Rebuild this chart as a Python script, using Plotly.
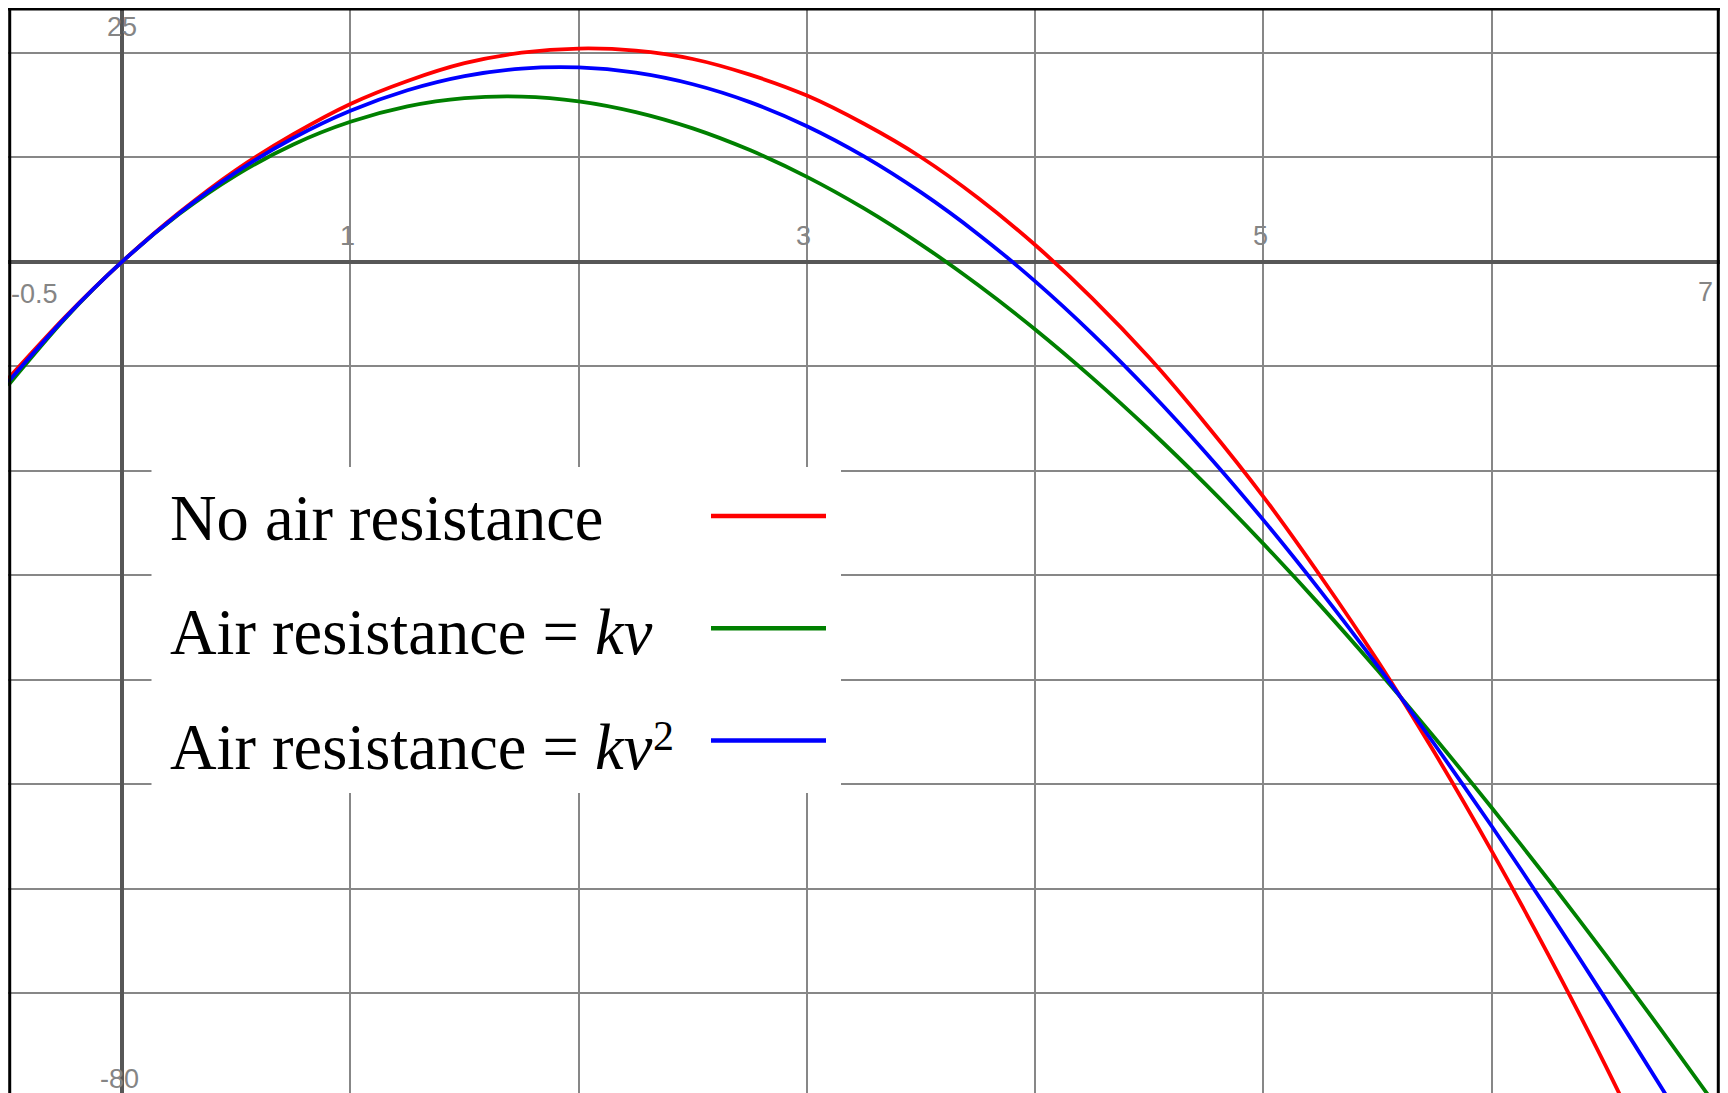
import plotly.graph_objects as go

# ---------------- data ----------------
x_values = [-0.5, -0.25, 0, 0.25, 0.5, 0.75, 1, 1.25, 1.5, 1.75, 2, 2.25, 2.5, 2.75,
            3, 3.25, 3.5, 3.75, 4, 4.25, 4.5, 4.75, 5, 5.25, 5.5, 5.75, 6, 6.25,
            6.5, 6.75, 7]

no_air_resistance = [-11.2, -5.3, 0.0, 4.7, 8.8, 12.2, 15.1, 17.3, 19.0, 20.0, 20.4,
                     20.2, 19.4, 17.9, 15.9, 13.2, 10.0, 6.1, 1.6, -3.5, -9.2, -15.6,
                     -22.5, -30.1, -38.2, -47.0, -56.4, -66.4, -77.0, -88.3, -100.1]

resistance_kv = [-11.84, -5.45, 0.0, 4.56, 8.29, 11.22, 13.39, 14.86, 15.65, 15.80,
                 15.35, 14.32, 12.76, 10.68, 8.12, 5.10, 1.64, -2.23, -6.48, -11.11,
                 -16.08, -21.38, -27.00, -32.91, -39.10, -45.55, -52.26, -59.19,
                 -66.36, -73.74, -81.32]

resistance_kv2 = [-11.52, -5.37, 0.0, 4.64, 8.58, 11.84, 14.45, 16.41, 17.76, 18.48,
                  18.59, 18.09, 16.98, 15.27, 12.97, 10.08, 6.63, 2.64, -1.88, -6.90,
                  -12.40, -18.35, -24.73, -31.52, -38.68, -46.20, -54.02, -62.17,
                  -70.59, -79.27, -88.19]

series_names = ["No air resistance", "Air resistance = kv", "Air resistance = kv²"]
legend_labels = ["No air resistance",
                 "Air resistance = <i>kv</i>",
                 "Air resistance = <i>kv</i>"]
legend_superscripts = ["", "", "2"]
series_colors = ["#ff0000", "#008000", "#0000ff"]

x_tick_labels = ["-0.5", "1", "3", "5", "7"]
y_tick_labels = ["25", "-80"]

# ---------------- layout helpers (page pixel -> paper) ----------------
# the page body has an 8px default margin, so the figure div starts at (8, 8)
OFF = 8
W, H = 1712, 1090


def paper_x(px):
    return (px - OFF) / W


def paper_y(py):
    return 1 - (py - OFF) / H


fig = go.Figure()
order = [1, 0, 2]
series_vals = [no_air_resistance, resistance_kv, resistance_kv2]
for i in order:
    fig.add_trace(go.Scatter(x=x_values, y=series_vals[i], mode="lines", name=series_names[i],
                             line=dict(color=series_colors[i], width=3.8, shape="spline",
                                       smoothing=0.8),
                             showlegend=False, hoverinfo="skip"))

grid_col = "#878787"
fig.update_xaxes(range=[-0.5, 7.0], dtick=1, tick0=0, showgrid=True, gridcolor=grid_col,
                 gridwidth=2, zeroline=True, zerolinecolor="#575757", zerolinewidth=4,
                 showticklabels=False, ticks="", showline=False)
fig.update_yaxes(range=[-80.03, 24.28], dtick=10, tick0=0, showgrid=True, gridcolor=grid_col,
                 gridwidth=2, zeroline=True, zerolinecolor="#575757", zerolinewidth=4,
                 showticklabels=False, ticks="", showline=False)

shapes = []
# black frame (left, top, right)
for (x0, y0, x1, y1) in [(0.001, 0, 0.001, 1), (0, 0.999, 1, 0.999), (0.999, 0, 0.999, 1)]:
    shapes.append(dict(type="line", xref="paper", yref="paper", x0=x0, y0=y0, x1=x1, y1=y1,
                       line=dict(color="black", width=3)))
# legend box
shapes.append(dict(type="rect", xref="paper", yref="paper",
                   x0=paper_x(151.5), x1=paper_x(841), y0=paper_y(793), y1=paper_y(467),
                   fillcolor="white", line=dict(width=0), layer="above"))

legend_font = "Liberation Serif, Times New Roman, serif"
annotations = []
row_baselines = [540, 654.3, 769.3]
row_lines = [516, 628.3, 740.5]
for lab, sup, col, base, ly in zip(legend_labels, legend_superscripts, series_colors,
                                   row_baselines, row_lines):
    annotations.append(dict(xref="paper", yref="paper", x=paper_x(168), y=paper_y(base + 16),
                            xanchor="left", yanchor="bottom", text=lab, showarrow=False,
                            font=dict(family=legend_font, size=64.5, color="black")))
    if sup:
        annotations.append(dict(xref="paper", yref="paper", x=paper_x(651),
                                y=paper_y(base - 33), xanchor="left", yanchor="middle",
                                text=sup, showarrow=False,
                                font=dict(family=legend_font, size=42, color="black")))
    shapes.append(dict(type="line", xref="paper", yref="paper", x0=paper_x(711),
                       x1=paper_x(826), y0=paper_y(ly), y1=paper_y(ly),
                       line=dict(color=col, width=4.5), layer="above"))

tick_font = dict(family="Liberation Sans, Arial, sans-serif", size=27, color="#858585")
# tick label placements (data coordinates)
x_label_pos = {"-0.5": (-0.384, -3.1), "1": (0.987, 2.5), "3": (2.987, 2.5),
               "5": (4.985, 2.5), "7": (6.935, -2.9)}
for lab in x_tick_labels:
    px, py = x_label_pos[lab]
    annotations.append(dict(x=px, y=py, text=lab, showarrow=False, xanchor="center",
                            yanchor="middle", font=tick_font))
y_label_pos = {"25": (0.0, 22.5), "-80": (-0.012, -78.2)}
for lab in y_tick_labels:
    px, py = y_label_pos[lab]
    annotations.append(dict(x=px, y=py, text=lab, showarrow=False, xanchor="center",
                            yanchor="middle", font=tick_font))

fig.update_layout(width=W, height=H, margin=dict(l=0, r=0, t=0, b=0, pad=0),
                  plot_bgcolor="white", paper_bgcolor="white", shapes=shapes,
                  annotations=annotations, showlegend=False)

fig.write_html("out.html")
